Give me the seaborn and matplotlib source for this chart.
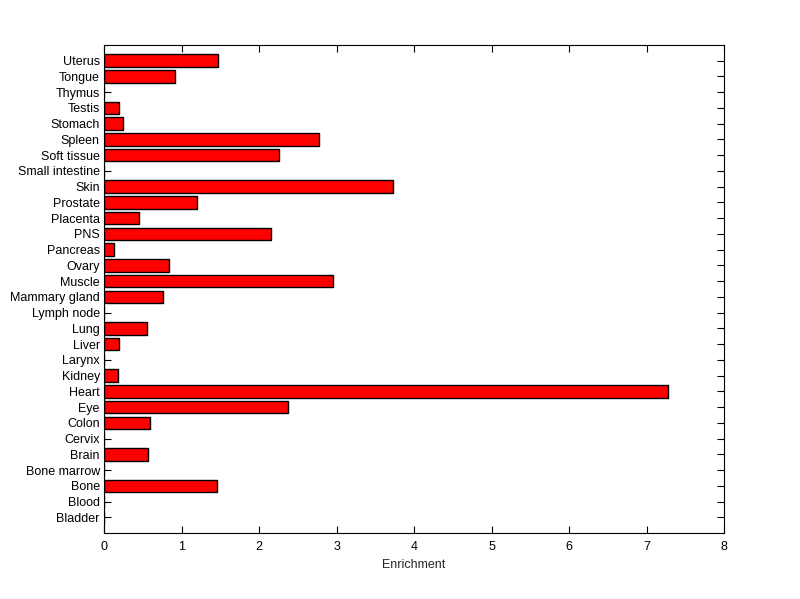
import matplotlib
matplotlib.use("Agg")
import matplotlib.pyplot as plt
import seaborn as sns
import pandas as pd

tissues = ["Bladder", "Blood", "Bone", "Bone marrow", "Brain", "Cervix", "Colon", "Eye",
           "Heart", "Kidney", "Larynx", "Liver", "Lung", "Lymph node", "Mammary gland",
           "Muscle", "Ovary", "Pancreas", "PNS", "Placenta", "Prostate", "Skin",
           "Small intestine", "Soft tissue", "Spleen", "Stomach", "Testis", "Thymus",
           "Tongue", "Uterus"]
enrichment = [0.0, 0.0, 1.46, 0.0, 0.57, 0.0, 0.59, 2.37,
              7.28, 0.18, 0.0, 0.19, 0.56, 0.0, 0.76,
              2.95, 0.84, 0.13, 2.15, 0.45, 1.20, 3.73,
              0.0, 2.26, 2.78, 0.25, 0.19, 0.0,
              0.92, 1.47]
xticks = [0, 1, 2, 3, 4, 5, 6, 7, 8]

df = pd.DataFrame({"tissue": tissues, "enrichment": enrichment})
order = tissues[::-1]

sns.set_style("white")
plt.rcParams["font.family"] = ["Liberation Sans", "DejaVu Sans"]

fig = plt.figure(figsize=(8.0, 5.99), dpi=100)
ax = fig.add_axes([0.13, 0.11, 0.775, 0.815])

sns.barplot(data=df, x="enrichment", y="tissue", order=order, orient="h",
            color="#ff0000", saturation=1, width=0.8, edgecolor="black",
            linewidth=1.0, ax=ax)

ax.set_xlim(0, 8)
ax.set_ylim(30, -1)
ax.set_xticks(xticks)
ax.set_xticklabels([str(t) for t in xticks])
ax.set_xlabel("Enrichment", fontsize=9)
ax.set_ylabel("")
ax.tick_params(axis="both", direction="in", length=5, width=0.8, labelsize=9,
               top=True, right=True, bottom=True, left=True, colors="black")
ax.tick_params(axis="x", pad=6)
ax.tick_params(axis="y", pad=3)
for s in ax.spines.values():
    s.set_visible(True)
    s.set_color("black")
    s.set_linewidth(0.8)

fig.savefig("out.png", dpi=100, facecolor="white")
